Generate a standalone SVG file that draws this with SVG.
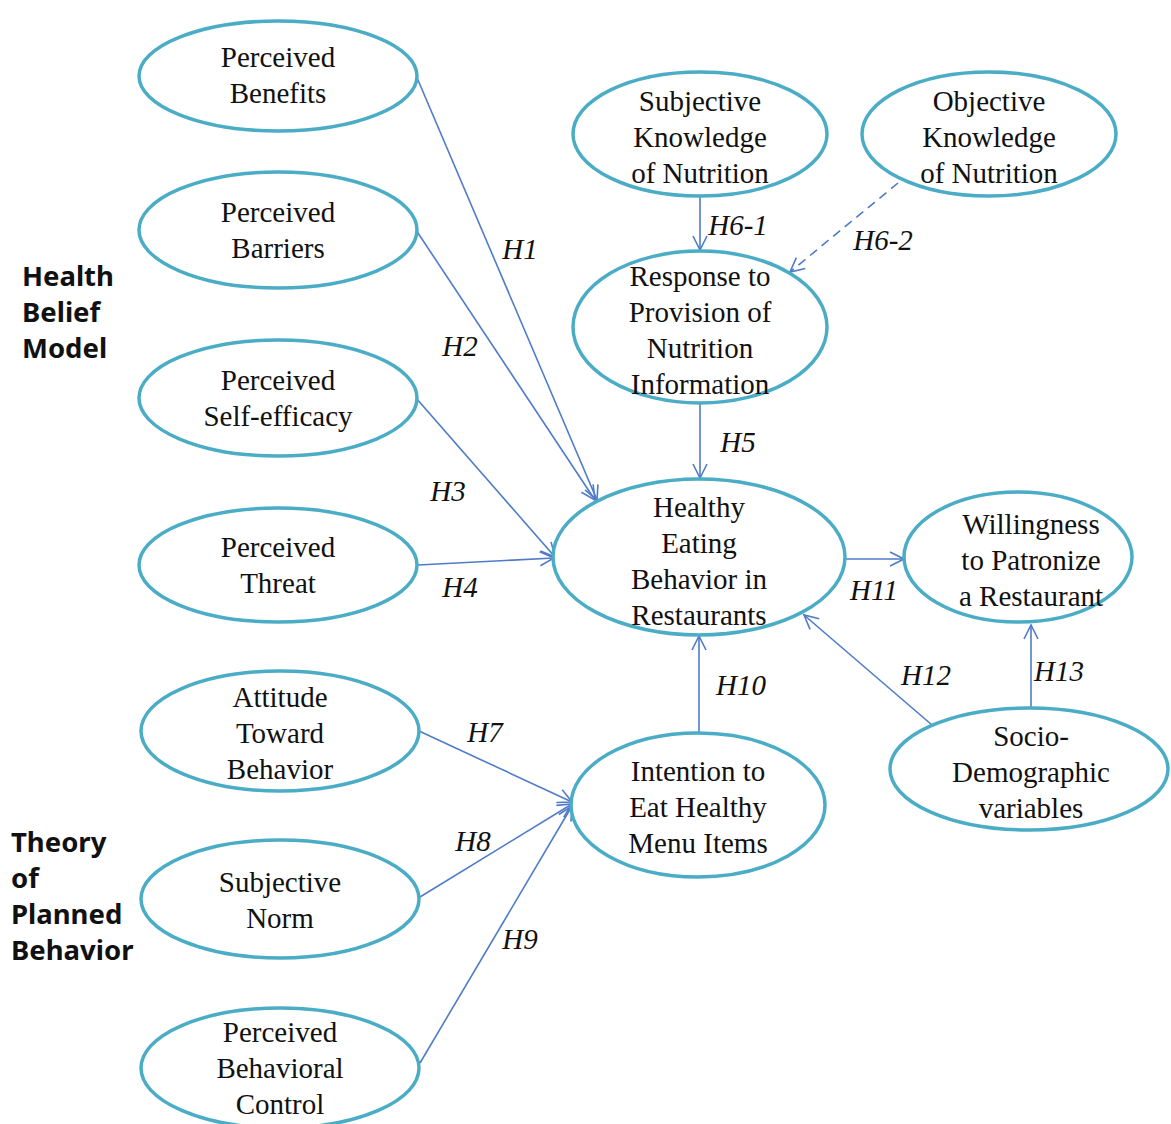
<svg xmlns="http://www.w3.org/2000/svg" width="1171" height="1124" viewBox="0 0 1171 1124">
  <defs>
    <style>
      .node ellipse { fill: #ffffff; stroke: #4bacc6; stroke-width: 3.5; }
      .node text { font-family: "Liberation Serif", "Times New Roman", serif; font-size: 29px; fill: #111111; text-anchor: middle; }
      .edge { stroke: #4f7bc8; stroke-width: 1.6; fill: none; marker-end: url(#arrow); }
      .dashed { stroke-dasharray: 9 6; }
      .hlabel { font-family: "Liberation Serif", "Times New Roman", serif; font-style: italic; font-size: 29px; fill: #111111; text-anchor: middle; }
      .group { font-family: "Noto Sans", "DejaVu Sans", sans-serif; font-weight: bold; font-size: 27.5px; fill: #111111; }
    </style>
    <marker id="arrow" viewBox="0 0 16 16" refX="15" refY="8" markerWidth="16" markerHeight="16" markerUnits="userSpaceOnUse" orient="auto">
      <path d="M1,1 L15,8 L1,15" fill="none" stroke="#4f7bc8" stroke-width="1.6"/>
    </marker>
  </defs>
  <rect width="1171" height="1124" fill="#ffffff"/>

  <!-- group headings -->
  <text class="group" x="22" y="286">Health</text>
  <text class="group" x="22" y="322">Belief</text>
  <text class="group" x="22" y="358">Model</text>
  <text class="group" x="11" y="852">Theory</text>
  <text class="group" x="11" y="888">of</text>
  <text class="group" x="11" y="924">Planned</text>
  <text class="group" x="11" y="960">Behavior</text>

  <!-- connectors -->
  <g id="connectors">
    <line class="edge" x1="415" y1="73" x2="597" y2="500"/>
    <line class="edge" x1="416" y1="230" x2="595" y2="500"/>
    <line class="edge" x1="416" y1="398" x2="555" y2="557"/>
    <line class="edge" x1="418" y1="565" x2="554" y2="558"/>
    <line class="edge" x1="700" y1="403" x2="700" y2="478"/>
    <line class="edge" x1="700" y1="196" x2="700" y2="250"/>
    <line class="edge dashed" x1="898" y1="183" x2="790" y2="272"/>
    <line class="edge" x1="419" y1="731" x2="572" y2="802"/>
    <line class="edge" x1="420" y1="897" x2="572" y2="804"/>
    <line class="edge" x1="420" y1="1063" x2="572" y2="806"/>
    <line class="edge" x1="699" y1="732" x2="699" y2="636"/>
    <line class="edge" x1="846" y1="559" x2="904" y2="559"/>
    <line class="edge" x1="932" y1="725" x2="804" y2="615"/>
    <line class="edge" x1="1031" y1="708" x2="1031" y2="625"/>
  </g>

  <!-- hypothesis labels -->
  <g id="labels">
    <text class="hlabel" x="520" y="259">H1</text>
    <text class="hlabel" x="460" y="356">H2</text>
    <text class="hlabel" x="448" y="501">H3</text>
    <text class="hlabel" x="460" y="597">H4</text>
    <text class="hlabel" x="738" y="452">H5</text>
    <text class="hlabel" x="738" y="235">H6-1</text>
    <text class="hlabel" x="883" y="250">H6-2</text>
    <text class="hlabel" x="485" y="742">H7</text>
    <text class="hlabel" x="473" y="851">H8</text>
    <text class="hlabel" x="520" y="949">H9</text>
    <text class="hlabel" x="741" y="695">H10</text>
    <text class="hlabel" x="874" y="600">H11</text>
    <text class="hlabel" x="926" y="685">H12</text>
    <text class="hlabel" x="1059" y="681">H13</text>
  </g>

  <!-- nodes -->
  <g id="perceived-benefits" class="node">
    <ellipse cx="278" cy="76" rx="139" ry="55"/>
    <text x="278" y="67">Perceived</text>
    <text x="278" y="103">Benefits</text>
  </g>
  <g id="perceived-barriers" class="node">
    <ellipse cx="278" cy="230" rx="139" ry="58"/>
    <text x="278" y="222">Perceived</text>
    <text x="278" y="258">Barriers</text>
  </g>
  <g id="perceived-self-efficacy" class="node">
    <ellipse cx="278" cy="398" rx="139" ry="58"/>
    <text x="278" y="390">Perceived</text>
    <text x="278" y="426">Self-efficacy</text>
  </g>
  <g id="perceived-threat" class="node">
    <ellipse cx="278" cy="565" rx="139" ry="57"/>
    <text x="278" y="557">Perceived</text>
    <text x="278" y="593">Threat</text>
  </g>
  <g id="attitude" class="node">
    <ellipse cx="280" cy="731" rx="139" ry="60"/>
    <text x="280" y="707">Attitude</text>
    <text x="280" y="743">Toward</text>
    <text x="280" y="779">Behavior</text>
  </g>
  <g id="subjective-norm" class="node">
    <ellipse cx="280" cy="899" rx="139" ry="59"/>
    <text x="280" y="892">Subjective</text>
    <text x="280" y="928">Norm</text>
  </g>
  <g id="perceived-behavioral-control" class="node">
    <ellipse cx="280" cy="1068" rx="139" ry="60"/>
    <text x="280" y="1042">Perceived</text>
    <text x="280" y="1078">Behavioral</text>
    <text x="280" y="1114">Control</text>
  </g>
  <g id="subjective-knowledge" class="node">
    <ellipse cx="700" cy="134" rx="127" ry="62"/>
    <text x="700" y="111">Subjective</text>
    <text x="700" y="147">Knowledge</text>
    <text x="700" y="183">of Nutrition</text>
  </g>
  <g id="objective-knowledge" class="node">
    <ellipse cx="989" cy="134" rx="127" ry="62"/>
    <text x="989" y="111">Objective</text>
    <text x="989" y="147">Knowledge</text>
    <text x="989" y="183">of Nutrition</text>
  </g>
  <g id="response-provision" class="node">
    <ellipse cx="700" cy="327" rx="127" ry="76"/>
    <text x="700" y="286">Response to</text>
    <text x="700" y="322">Provision of</text>
    <text x="700" y="358">Nutrition</text>
    <text x="700" y="394">Information</text>
  </g>
  <g id="healthy-eating" class="node">
    <ellipse cx="699" cy="557" rx="146" ry="78"/>
    <text x="699" y="517">Healthy</text>
    <text x="699" y="553">Eating</text>
    <text x="699" y="589">Behavior in</text>
    <text x="699" y="625">Restaurants</text>
  </g>
  <g id="willingness" class="node">
    <ellipse cx="1018" cy="557" rx="114" ry="65"/>
    <text x="1031" y="534">Willingness</text>
    <text x="1031" y="570">to Patronize</text>
    <text x="1031" y="606">a Restaurant</text>
  </g>
  <g id="socio-demographic" class="node">
    <ellipse cx="1029" cy="769" rx="139" ry="61"/>
    <text x="1031" y="746">Socio-</text>
    <text x="1031" y="782">Demographic</text>
    <text x="1031" y="818">variables</text>
  </g>
  <g id="intention" class="node">
    <ellipse cx="698" cy="805" rx="127" ry="72"/>
    <text x="698" y="781">Intention to</text>
    <text x="698" y="817">Eat Healthy</text>
    <text x="698" y="853">Menu Items</text>
  </g>
</svg>
